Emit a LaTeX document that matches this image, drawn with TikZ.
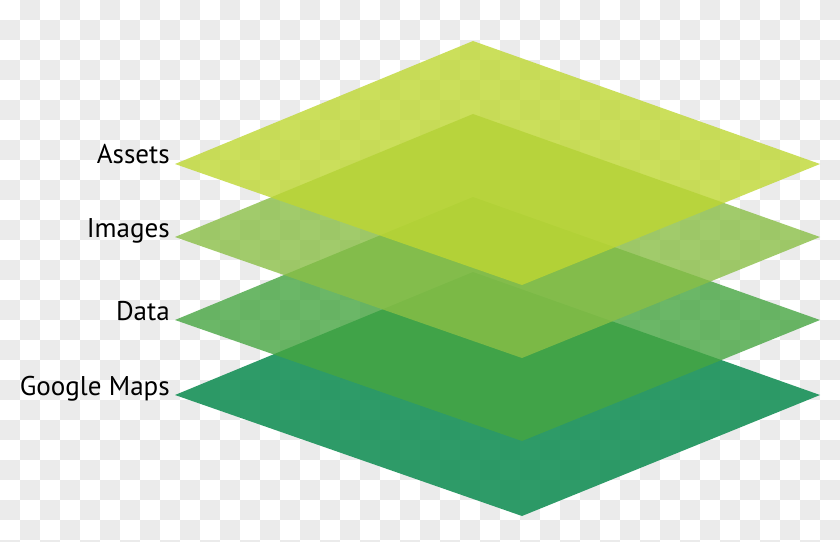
\documentclass[tikz,border=0pt]{standalone}
\usepackage{fontspec}
\setmainfont{PT Sans}
\definecolor{checkgray}{HTML}{EBEBEB}
\definecolor{cassets}{HTML}{BED732}
\definecolor{cimages}{HTML}{8ABF46}
\definecolor{cdata}{HTML}{46A641}
\definecolor{cmaps}{HTML}{189158}
\tikzset{
  layer/.style={fill=#1, draw=none},
  lbl/.style={anchor=base east, inner sep=0pt, font=\fontsize{20.3}{24}\selectfont, text=black},
}
\begin{document}
\begin{tikzpicture}[x=0.75pt, y=-0.75pt]
  \useasboundingbox (0,0) rectangle (840,542);
  \fill[white] (0,0) rectangle (840,542);
  \begin{scope}
    \clip (0,0) rectangle (840,542);
    \foreach \j in {0,...,27} {
      \pgfmathtruncatemacro\off{20*(1-mod(\j,2))}
      \foreach \i in {0,...,21} {
        \fill[checkgray] (40*\i+\off, 20*\j) rectangle ++(20,20);
      }
    }
  \end{scope}
  % layers, bottom first
  \foreach \L/\c/\o in {395/cmaps/0.9, 320/cdata/0.8, 237/cimages/0.8, 164/cassets/0.8} {
    \fill[layer=\c, fill opacity=\o] (473,\L-123) -- (820,\L) -- (522,\L+121) -- (175,\L) -- cycle;
  }
  \node[lbl] (assets) at (170,164) {Assets};
  \node[lbl] (images) at (170,237) {Images};
  \node[lbl] (data)   at (170,320) {Data};
  \node[lbl] (maps)   at (170,395) {Google Maps};
\end{tikzpicture}
\end{document}
